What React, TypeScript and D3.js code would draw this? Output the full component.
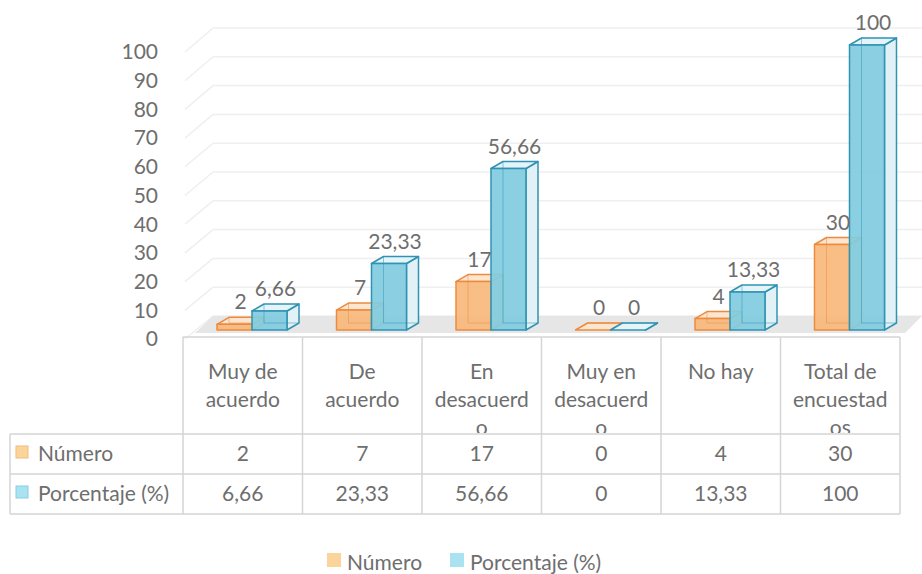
import * as d3 from 'd3';

const categories = ['Muy de acuerdo', 'De acuerdo', 'En desacuerdo', 'Muy en desacuerdo', 'No hay', 'Total de encuestados'];
// line breaks as they appear in the table header
const categoryLines = [
  ['Muy de', 'acuerdo'],
  ['De', 'acuerdo'],
  ['En', 'desacuerd', 'o'],
  ['Muy en', 'desacuerd', 'o'],
  ['No hay'],
  ['Total de', 'encuestad', 'os'],
];
const series = ['Número', 'Porcentaje (%)'];
const numero = [2, 7, 17, 0, 4, 30];
const porcentaje = [6.66, 23.33, 56.66, 0, 13.33, 100];
const yTicks = [0, 10, 20, 30, 40, 50, 60, 70, 80, 90, 100];

const W = 922;
const H = 574;
const FONT = 'Lato, sans-serif';
const FS = 21;
const TEXT = '#6e6e6e';

const locale = d3.formatLocale({ decimal: ',', thousands: '.', grouping: [3], currency: ['', ''] });
const fmt = locale.format('~f');

const colors = [
  { stroke: '#ee8a3e', front: '#f8b97c', top: '#fde6cf', side: '#fbe3cc', key: '#fbd49c', keyStroke: '#f2bc7c' },
  { stroke: '#3193b3', front: '#80cce0', top: '#e4f4f9', side: '#e1f1f6', key: '#a9e2f0', keyStroke: '#86cfe2' },
];

export default function App() {
  const tableLeft = 10;
  const x = d3.scaleBand<string>().domain(categories).range([183, 900]);
  const xs = d3.scaleBand<string>().domain(series).range([34, 104]);
  const yBar = d3.scaleLinear().domain([0, 100]).range([330, 45]);
  const yBack = d3.scaleLinear().domain([0, 100]).range([316, 28]);
  const yWall = d3.scaleLinear().domain([0, 100]).range([339, 52]);
  const dx = 12;
  const dy = -7;
  const wallFrontX = 185;
  const wallBackX = 213;

  const rowTop = 337;
  const rowHead = 434;
  const row1 = 474;
  const row2 = 514;
  const values = [numero, porcentaje];

  const bars = categories.flatMap((c, i) =>
    series.map((s, j) => ({ c, s, j, v: values[j][i] }))
  );

  const poly = (pts: [number, number][]) => pts.map((p) => p.join(',')).join(' ');

  return (
    <svg width={W} height={H} style={{ position: 'absolute', left: 0, top: 0, background: '#fff' }} fontFamily={FONT}>
      <defs>
        <clipPath id="headClip">
          <rect x={0} y={rowTop} width={W} height={rowHead - rowTop - 1} />
        </clipPath>
      </defs>
      {/* walls */}
      {yTicks.map((t) => (
        <g key={t} stroke="#efefef" strokeWidth={1.5}>
          <line x1={wallFrontX} y1={yWall(t)} x2={wallBackX} y2={yBack(t)} />
          <line x1={wallBackX} y1={yBack(t)} x2={W} y2={yBack(t)} />
        </g>
      ))}
      {/* floor */}
      <polygon points={poly([[195, 333], [wallBackX, 316], [W, 316], [905, 333]])} fill="#e6e6e6" />
      {/* y axis labels */}
      {yTicks.map((t) => (
        <text key={t} x={158} y={yWall(t)} dy="0.35em" textAnchor="end" fontSize={FS} fill={TEXT}>
          {t}
        </text>
      ))}
      {/* bars */}
      {bars.map((b) => {
        const col = colors[b.j];
        const x0 = (x(b.c) ?? 0) + (xs(b.s) ?? 0);
        const x1 = x0 + xs.bandwidth();
        const yt = yBar(b.v);
        const yb = yBar(0);
        return (
          <g key={b.c + b.s} stroke={col.stroke} strokeWidth={1.5} strokeLinejoin="round">
            <polygon points={poly([[x1, yt], [x1 + dx, yt + dy], [x1 + dx, yb + dy], [x1, yb]])} fill={col.side} />
            <polygon points={poly([[x0, yt], [x1, yt], [x1 + dx, yt + dy], [x0 + dx, yt + dy]])} fill={col.top} />
            <rect x={x0} y={yt} width={x1 - x0} height={yb - yt} fill={col.front} fillOpacity={0.92} />
            <line x1={x0 + dx} y1={yt + dy} x2={x0 + dx} y2={yb + dy} strokeOpacity={0.5} strokeWidth={1} />
            <line x1={x0 + dx} y1={yb + dy} x2={x1 + dx} y2={yb + dy} strokeOpacity={0.5} strokeWidth={1} />
          </g>
        );
      })}
      {/* data labels */}
      {bars.map((b) => {
        const x0 = (x(b.c) ?? 0) + (xs(b.s) ?? 0);
        return (
          <text
            key={'l' + b.c + b.s}
            x={x0 + xs.bandwidth() / 2 + dx / 2}
            y={yBar(b.v) + dy - 8}
            textAnchor="middle"
            fontSize={FS}
            fill={TEXT}
          >
            {fmt(b.v)}
          </text>
        );
      })}
      {/* data table */}
      <g stroke="#d4d4d4" strokeWidth={1.5}>
        <line x1={183} y1={rowTop} x2={900} y2={rowTop} />
        <line x1={tableLeft} y1={rowHead} x2={900} y2={rowHead} />
        <line x1={tableLeft} y1={row1} x2={900} y2={row1} />
        <line x1={tableLeft} y1={row2} x2={900} y2={row2} />
        <line x1={tableLeft} y1={rowHead} x2={tableLeft} y2={row2} />
        {categories.map((c) => (
          <line key={c} x1={x(c)} y1={rowTop} x2={x(c)} y2={row2} />
        ))}
        <line x1={900} y1={rowTop} x2={900} y2={row2} />
      </g>
      <g clipPath="url(#headClip)">
        {categories.map((c, i) =>
          categoryLines[i].map((ln, k) => (
            <text
              key={c + k}
              x={(x(c) ?? 0) + x.bandwidth() / 2}
              y={379 + k * 28}
              textAnchor="middle"
              fontSize={FS}
              fill={TEXT}
            >
              {ln}
            </text>
          ))
        )}
      </g>
      {series.map((s, j) => {
        const yc = j === 0 ? (rowHead + row1) / 2 : (row1 + row2) / 2;
        return (
          <g key={s}>
            <rect x={16} y={yc - 8} width={12} height={12} fill={colors[j].key} stroke={colors[j].keyStroke} />
            <text x={38} y={yc} dy="0.35em" fontSize={FS} fill={TEXT}>
              {s}
            </text>
            {categories.map((c, i) => (
              <text
                key={c}
                x={(x(c) ?? 0) + x.bandwidth() / 2}
                y={yc}
                dy="0.35em"
                textAnchor="middle"
                fontSize={FS}
                fill={TEXT}
              >
                {fmt(values[j][i])}
              </text>
            ))}
          </g>
        );
      })}
      {/* legend */}
      <g>
        <rect x={327} y={553} width={14} height={14} fill={colors[0].key} />
        <text x={347} y={563} dy="0.35em" fontSize={FS} fill={TEXT}>
          {series[0]}
        </text>
        <rect x={450} y={553} width={14} height={14} fill={colors[1].key} />
        <text x={470} y={563} dy="0.35em" fontSize={FS} fill={TEXT}>
          {series[1]}
        </text>
      </g>
    </svg>
  );
}
